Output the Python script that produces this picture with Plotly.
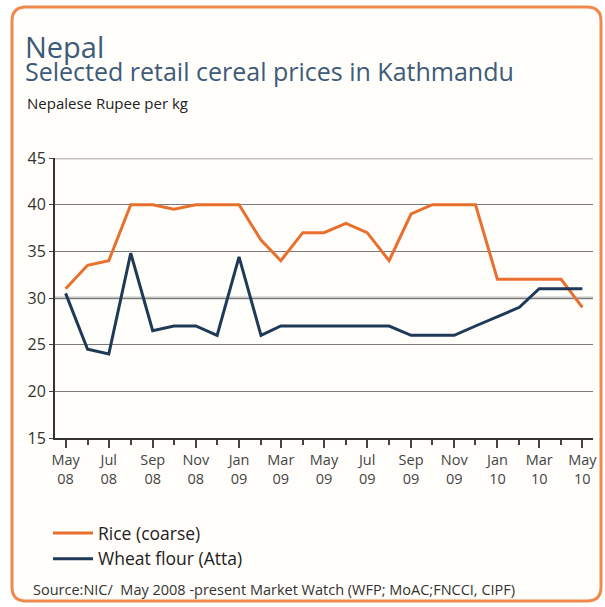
import plotly.graph_objects as go

# ---- data ----
months = ["2008-05-01", "2008-06-01", "2008-07-01", "2008-08-01", "2008-09-01",
          "2008-10-01", "2008-11-01", "2008-12-01", "2009-01-01", "2009-02-01",
          "2009-03-01", "2009-04-01", "2009-05-01", "2009-06-01", "2009-07-01",
          "2009-08-01", "2009-09-01", "2009-10-01", "2009-11-01", "2009-12-01",
          "2010-01-01", "2010-02-01", "2010-03-01", "2010-04-01", "2010-05-01"]
rice = [31, 33.5, 34, 40, 40, 39.5, 40, 40, 40, 36.2, 34, 37, 37, 38, 37,
        34, 39, 40, 40, 40, 32, 32, 32, 32, 29]
wheat = [30.5, 24.5, 24, 34.8, 26.5, 27, 27, 26, 34.4, 26, 27, 27, 27, 27, 27,
         27, 26, 26, 26, 27, 28, 29, 31, 31, 31]
tick_vals = ["2008-05-01", "2008-07-01", "2008-09-01", "2008-11-01", "2009-01-01",
             "2009-03-01", "2009-05-01", "2009-07-01", "2009-09-01", "2009-11-01",
             "2010-01-01", "2010-03-01", "2010-05-01"]
tick_text = ["May<br>08", "Jul<br>08", "Sep<br>08", "Nov<br>08", "Jan<br>09",
             "Mar<br>09", "May<br>09", "Jul<br>09", "Sep<br>09", "Nov<br>09",
             "Jan<br>10", "Mar<br>10", "May<br>10"]

# ---- layout geometry (pixels) ----
W, H = 605, 607
L, R, T, B = 55, 12, 158, 169
PW, PH = W - L - R, H - T - B

def px(x):
    return (x - L) / PW

def py(y):
    return (H - B - y) / PH

FONT = "Open Sans"
TITLE_C = "#3d5b78"

fig = go.Figure()
fig.add_trace(go.Scatter(x=months, y=rice, mode="lines", name="Rice (coarse)",
                         line=dict(color="#e8702f", width=3)))
fig.add_trace(go.Scatter(x=months, y=wheat, mode="lines", name="Wheat flour (Atta)",
                         line=dict(color="#1e3a56", width=3)))

# rounded border
x0, x1, y0, y1, r = 12, 601, 7, 601, 14
path = (f"M {px(x0+r)},{py(y0)} L {px(x1-r)},{py(y0)} "
        f"Q {px(x1)},{py(y0)} {px(x1)},{py(y0+r)} "
        f"L {px(x1)},{py(y1-r)} Q {px(x1)},{py(y1)} {px(x1-r)},{py(y1)} "
        f"L {px(x0+r)},{py(y1)} Q {px(x0)},{py(y1)} {px(x0)},{py(y1-r)} "
        f"L {px(x0)},{py(y0+r)} Q {px(x0)},{py(y0)} {px(x0+r)},{py(y0)} Z")
shapes = [dict(type="path", path=path, xref="paper", yref="paper",
               line=dict(color="#f0894e", width=3), fillcolor="#fffefa",
               layer="below")]
for v in (45, 30):
    shapes.append(dict(type="line", xref="paper", yref="y", x0=0, x1=1, y0=v, y1=v,
                       line=dict(color="#c4c4c4", width=3), layer="below"))

title_text = ("<span style='font-size:29px'>Nepal</span><br>"
              "<span style='font-size:25px'>Selected retail cereal prices in Kathmandu</span>")

annotations = [
    dict(text=title_text, x=px(23), y=py(58), xref="paper", yref="paper",
         xanchor="left", yanchor="middle", align="left", showarrow=False,
         font=dict(family=FONT, size=18, color=TITLE_C)),
    dict(text="Nepalese Rupee per kg", x=px(25), y=py(103), xref="paper", yref="paper",
         xanchor="left", yanchor="middle", showarrow=False,
         font=dict(family=FONT, size=15, color="#222222")),
    dict(text="Source:NIC/  May 2008 -present Market Watch (WFP; MoAC;FNCCI, CIPF)",
         x=px(31), y=py(589), xref="paper", yref="paper", xanchor="left",
         yanchor="middle", showarrow=False,
         font=dict(family=FONT, size=14.5, color="#333333")),
]

fig.update_layout(
    width=W, height=H,
    margin=dict(l=L, r=R, t=T, b=B, autoexpand=False),
    paper_bgcolor="white", plot_bgcolor="white",
    font=dict(family=FONT, color="#333333"),
    showlegend=True,
    legend=dict(x=px(48), y=py(515), xanchor="left", yanchor="top",
                font=dict(family=FONT, size=17.5, color="#222222"),
                bgcolor="rgba(0,0,0,0)", itemwidth=40),
    shapes=shapes, annotations=annotations,
)
fig.update_xaxes(
    type="date", range=["2008-04-16", "2010-05-16"],
    tickmode="array", tickvals=tick_vals, ticktext=tick_text,
    showgrid=False, showline=True, linecolor="#333333", linewidth=2,
    ticks="outside", ticklen=8, tickwidth=2, tickcolor="#444444",
    tickfont=dict(family=FONT, size=14.5, color="#444444"),
    minor=dict(tickmode="array", tickvals=months, ticks="outside", ticklen=5,
               tickwidth=2, tickcolor="#444444", showgrid=False),
    zeroline=False,
)
fig.update_yaxes(
    range=[15, 45], dtick=5, tick0=15,
    showgrid=True, gridcolor="#7a7a7a", gridwidth=1,
    showline=True, linecolor="#333333", linewidth=2,
    ticks="outside", ticklen=4, tickwidth=1, tickcolor="#444444",
    tickfont=dict(family=FONT, size=16, color="#333333"),
    zeroline=False,
)

fig.write_html("out.html", config={"displayModeBar": False},
               post_script="document.body.style.margin='0';")
